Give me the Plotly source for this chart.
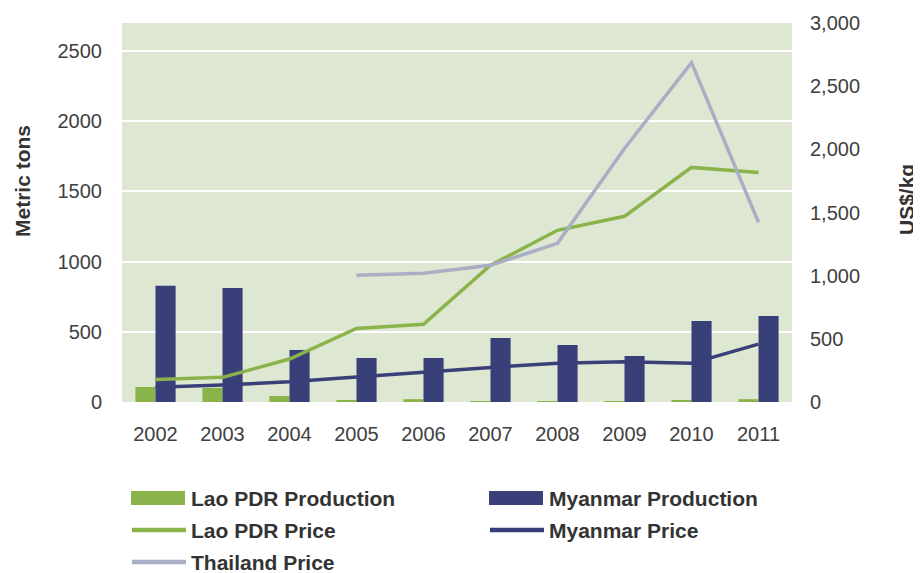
import plotly.graph_objects as go

years = ["2002", "2003", "2004", "2005", "2006", "2007", "2008", "2009", "2010", "2011"]
lao_production = [107, 100, 43, 12, 20, 7, 6, 5, 12, 20]
myanmar_production = [828, 812, 370, 313, 313, 456, 406, 328, 577, 612]
lao_price = [178, 195, 340, 582, 615, 1082, 1359, 1470, 1857, 1817]
myanmar_price = [116, 134, 160, 200, 240, 274, 306, 319, 306, 458]
thailand_price = [None, None, None, 1003, 1019, 1082, 1256, 2007, 2686, 1422]

left_ticks = [0, 500, 1000, 1500, 2000, 2500]
right_ticks = [0, 500, 1000, 1500, 2000, 2500, 3000]
right_tick_labels = ["0", "500", "1,000", "1,500", "2,000", "2,500", "3,000"]

GREEN = "#8AB44B"
NAVY = "#393F78"
GREY = "#A9AEC4"
TXT = "#404040"
DARK = "#333333"
FONT = "Liberation Sans, Arial, sans-serif"

# page has an 8px body margin; figure sized to fill the rest of the window
OFF = 8
W, H = 921 - OFF, 573 - OFF
L, T = 122 - OFF, 23 - OFF
R, B = W - (792 - OFF), H - (402 - OFF)
PW, PH = W - L - R, H - T - B


def px_x(x):
    return (x - OFF - L) / PW


def px_y(y):
    return (H - B - (y - OFF)) / PH


fig = go.Figure()
fig.add_trace(go.Bar(x=years, y=lao_production, name="Lao PDR Production",
                     marker=dict(color=GREEN, line=dict(width=0))))
fig.add_trace(go.Bar(x=years, y=myanmar_production, name="Myanmar Production",
                     marker=dict(color=NAVY, line=dict(width=0))))
fig.add_trace(go.Scatter(x=years, y=lao_price, name="Lao PDR Price", yaxis="y2",
                         mode="lines", line=dict(color=GREEN, width=3.5)))
fig.add_trace(go.Scatter(x=years, y=myanmar_price, name="Myanmar Price", yaxis="y2",
                         mode="lines", line=dict(color=NAVY, width=3.5)))
fig.add_trace(go.Scatter(x=years, y=thailand_price, name="Thailand Price", yaxis="y2",
                         mode="lines", line=dict(color=GREY, width=3.5)))

# Custom legend (two columns, wide swatches as in the reference)
legend_items = [
    ("Lao PDR Production", GREEN, "bar", 131, 498),
    ("Myanmar Production", NAVY, "bar", 489, 498),
    ("Lao PDR Price", GREEN, "line", 131, 530),
    ("Myanmar Price", NAVY, "line", 489, 530),
    ("Thailand Price", GREY, "line", 131, 562),
]
shapes = []
annotations = []
for label, color, kind, x0, yc in legend_items:
    if kind == "bar":
        shapes.append(dict(type="rect", xref="paper", yref="paper",
                           x0=px_x(x0), x1=px_x(x0 + 54), y0=px_y(yc - 7), y1=px_y(yc + 7),
                           fillcolor=color, line=dict(width=0)))
    else:
        shapes.append(dict(type="line", xref="paper", yref="paper",
                           x0=px_x(x0 + 1), x1=px_x(x0 + 55), y0=px_y(yc), y1=px_y(yc),
                           line=dict(color=color, width=4.5)))
    annotations.append(dict(text=label, xref="paper", yref="paper", x=px_x(x0 + 58),
                            y=px_y(yc), xanchor="left", yanchor="middle", showarrow=False,
                            font=dict(family=FONT, size=21, weight="bold", color=DARK)))

annotations.append(dict(text="Metric tons", xref="paper", yref="paper", x=px_x(22), y=px_y(181),
                        xanchor="center", yanchor="middle", textangle=-90, showarrow=False,
                        font=dict(family=FONT, size=21, weight="bold", color=DARK)))
annotations.append(dict(text="US$/kg", xref="paper", yref="paper", x=px_x(906), y=px_y(200),
                        xanchor="center", yanchor="middle", textangle=-90, showarrow=False,
                        font=dict(family=FONT, size=21, weight="bold", color=DARK)))

fig.update_layout(
    width=W, height=H,
    margin=dict(l=L, r=R, t=T, b=B, autoexpand=False),
    paper_bgcolor="white",
    plot_bgcolor="#DEE7D1",
    font=dict(family=FONT, size=20, color=TXT),
    showlegend=False,
    barmode="group",
    bargap=0.4,
    bargroupgap=0.0,
    xaxis=dict(showgrid=False, ticks="outside", ticklen=14, tickcolor="rgba(0,0,0,0)",
               showline=False, zeroline=False, automargin=False),
    yaxis=dict(range=[0, 2700], tickvals=left_ticks, showgrid=True, gridcolor="white",
               gridwidth=2, zeroline=False, ticks="outside", ticklen=15,
               tickcolor="rgba(0,0,0,0)", automargin=False),
    yaxis2=dict(range=[0, 3000], tickvals=right_ticks, ticktext=right_tick_labels,
                overlaying="y", side="right", showgrid=False, zeroline=False,
                ticks="outside", ticklen=13, tickcolor="rgba(0,0,0,0)", automargin=False),
    shapes=shapes,
    annotations=annotations,
)

fig.write_html("out.html")
